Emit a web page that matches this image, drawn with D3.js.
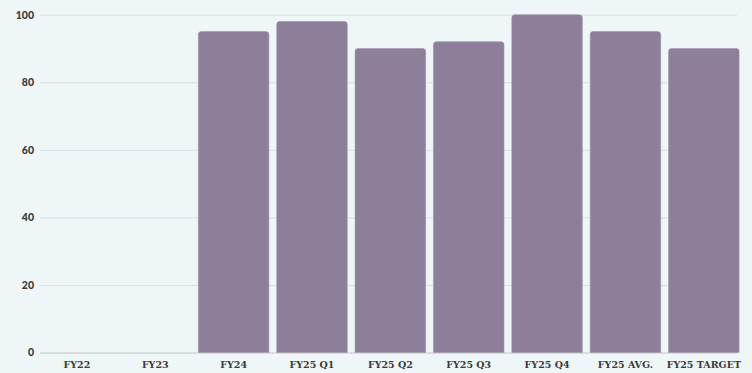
<!DOCTYPE html>
<html>
<head>
<meta charset="utf-8">
<script src="https://cdn.jsdelivr.net/npm/d3@7"></script>
<style>
  html, body { margin: 0; padding: 0; background: #eff6f7; }
  svg { display: block; }
</style>
</head>
<body>
<svg id="chart" width="752" height="373"></svg>
<script>
// Score by period
const categories = ["FY22", "FY23", "FY24", "FY25 Q1", "FY25 Q2", "FY25 Q3", "FY25 Q4", "FY25 AVG.", "FY25 TARGET"];
const scores = [0, 0, 95, 98, 90, 92, 100, 95, 90];
const yTicks = [0, 20, 40, 60, 80, 100];

const width = 752, height = 373;
const margin = { top: 14.7, right: 9, bottom: 20.5, left: 37.7 };

const svg = d3.select("#chart");

const x = d3.scaleBand()
  .domain(categories)
  .range([margin.left, width - margin.right])
  .paddingInner(0.1)
  .paddingOuter(0.05);

const y = d3.scaleLinear()
  .domain([0, 100])
  .range([height - margin.bottom, margin.top]);

// horizontal gridlines
svg.append("g")
  .selectAll("line")
  .data(yTicks)
  .join("line")
  .attr("x1", 40)
  .attr("x2", 737)
  .attr("y1", d => y(d) + 0.5)
  .attr("y2", d => y(d) + 0.5)
  .attr("stroke", d => d === 0 ? "#cfd6d9" : "#d9e0e3")
  .attr("stroke-width", d => d === 0 ? 1.5 : 1);

// y axis labels
const yAxis = d3.axisLeft(y).tickValues(yTicks).tickSize(0).tickPadding(0);
svg.append("g")
  .attr("transform", "translate(34,0)")
  .call(yAxis)
  .call(g => g.select(".domain").remove())
  .call(g => g.selectAll("text")
    .attr("font-family", "Lato, 'DejaVu Sans', sans-serif")
    .attr("font-weight", 900)
    .attr("font-size", 10.5)
    .attr("fill", "#3a3a3a"));

// bars with rounded top corners
function barPath(d) {
  const x0 = x(d.cat), w = x.bandwidth();
  const y0 = y(d.value), y1 = y(0);
  const r = Math.min(3, (y1 - y0) / 2);
  if (y1 - y0 <= 0) return "";
  return `M${x0},${y1}V${y0 + r}Q${x0},${y0} ${x0 + r},${y0}H${x0 + w - r}Q${x0 + w},${y0} ${x0 + w},${y0 + r}V${y1}Z`;
}

svg.append("g")
  .selectAll("path")
  .data(categories.map((c, i) => ({ cat: c, value: scores[i] })))
  .join("path")
  .attr("d", barPath)
  .attr("fill", "#8d7e99")
  .attr("stroke", "#a094aa")
  .attr("stroke-width", 0.6);

// x axis labels
const xAxis = d3.axisBottom(x).tickSize(0).tickPadding(0);
svg.append("g")
  .attr("transform", `translate(0,${height - 8})`)
  .call(xAxis)
  .call(g => g.select(".domain").remove())
  .call(g => g.selectAll("text")
    .attr("dy", "0.35em")
    .attr("font-family", "'DejaVu Serif', serif")
    .attr("font-weight", "bold")
    .attr("font-size", 9.5)
    .attr("fill", "#3a3a3a"));
</script>
</body>
</html>
